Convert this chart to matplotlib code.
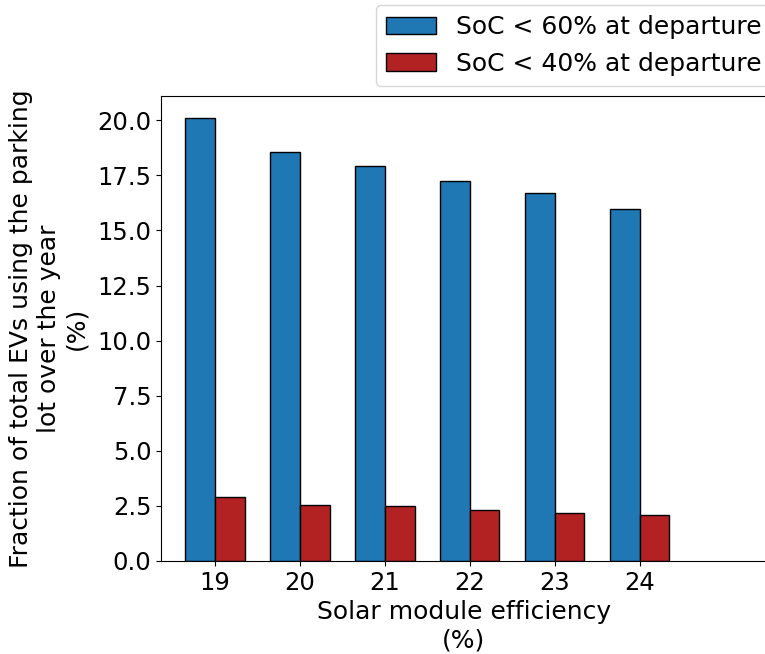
import numpy as np
import matplotlib.pyplot as plt

efficiency = [19, 20, 21, 22, 23, 24]
soc_below_60 = [20.11, 18.57, 17.92, 17.25, 16.68, 15.98]
soc_below_40 = [2.91, 2.56, 2.48, 2.30, 2.17, 2.09]

plt.rcParams['font.size'] = 18
plt.rcParams['xtick.labelsize'] = 17.5
plt.rcParams['ytick.labelsize'] = 17.5

fig = plt.figure(figsize=(7.65, 6.54), dpi=100)
ax = fig.add_axes([161 / 765, 93 / 654, 606 / 765, 465 / 654])

x = np.array(efficiency)
w = 0.35
b1 = ax.bar(x - w / 2, soc_below_60, w, color='#1f77b4', edgecolor='black',
            label='SoC < 60% at departure')
b2 = ax.bar(x + w / 2, soc_below_40, w, color='firebrick', edgecolor='black',
            label='SoC < 40% at departure')

ax.set_xticks(efficiency)
ax.set_xlim(18.365, 25.5)
ax.set_yticks(np.arange(0, 20.1, 2.5))
ax.set_ylim(0, 21.1)
ax.set_xlabel('Solar module efficiency\n(%)')
ax.set_ylabel('Fraction of total EVs using the parking\nlot over the year\n(%)', labelpad=6)

fig.legend(handles=[b1, b2], loc='upper left', bbox_to_anchor=(376 / 765, 1 - 5 / 654),
           borderaxespad=0)

fig.savefig('out.png', dpi=100)
